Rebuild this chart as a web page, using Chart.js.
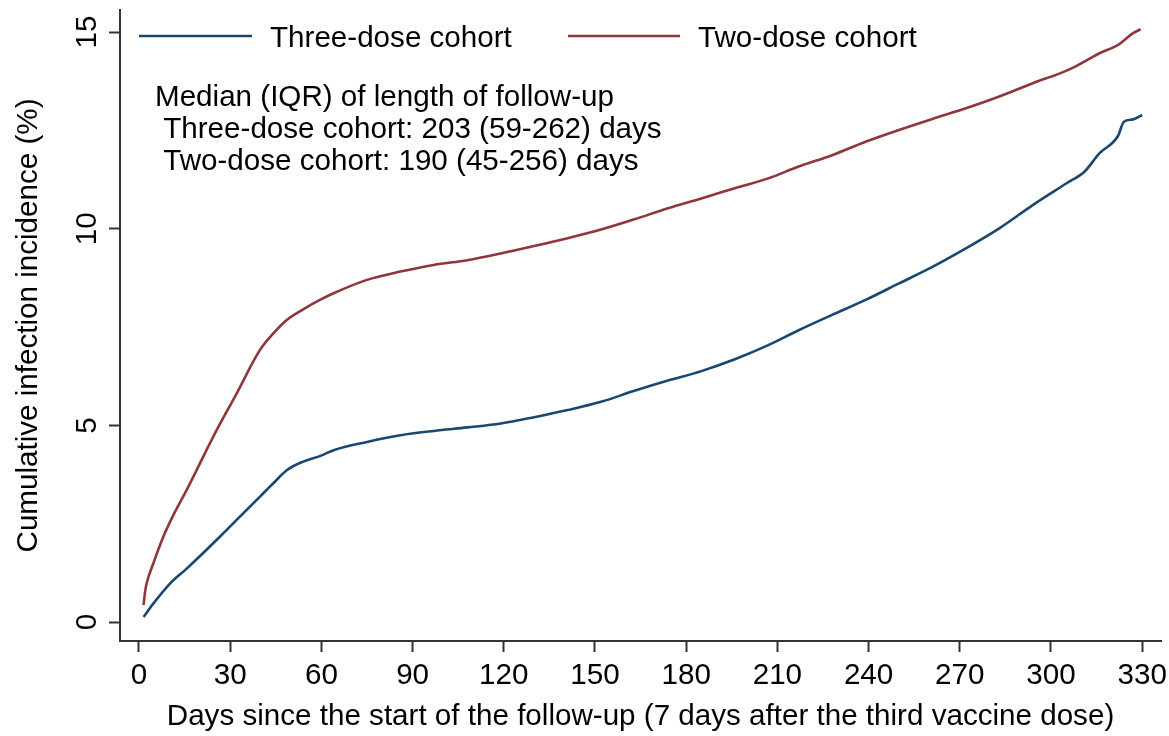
<!DOCTYPE html>
<html>
<head>
<meta charset="utf-8">
<script src="https://cdn.jsdelivr.net/npm/chart.js@4"></script>
<style>
  html, body { margin: 0; padding: 0; background: #fff; }
  #wrap { width: 1169px; height: 736px; }
</style>
</head>
<body>
<div id="wrap"><canvas id="c" width="1169" height="736"></canvas></div>
<script>
// ---- data ----
const seriesNames = ['Three-dose cohort', 'Two-dose cohort'];

const threeDoseDays = [1.5, 4.7, 10.2, 15.7, 26.6, 33.2, 39.8, 42, 44.2, 48.6, 54, 59.5, 64, 75, 86, 97, 108, 119, 130, 141, 152, 163, 174, 185, 196, 207, 217, 228, 239, 250, 261, 272, 283, 294, 305, 311, 316, 322, 324, 327, 330];
const threeDoseValues = [0.13, 0.47, 0.98, 1.36, 2.17, 2.68, 3.19, 3.36, 3.53, 3.86, 4.08, 4.22, 4.37, 4.58, 4.75, 4.86, 4.95, 5.05, 5.21, 5.39, 5.6, 5.88, 6.14, 6.38, 6.68, 7.04, 7.42, 7.81, 8.19, 8.61, 9.03, 9.5, 10.01, 10.6, 11.15, 11.45, 11.92, 12.35, 12.72, 12.78, 12.89];

const twoDoseDays = [1.5, 2, 2.5, 4.7, 8, 11.3, 15.7, 24.4, 32.1, 39.8, 44.2, 48.6, 54, 59.5, 64, 75, 86, 97, 108, 119, 130, 141, 152, 163, 174, 185, 196, 207, 217, 228, 239, 250, 261, 272, 283, 294, 303, 308, 312, 316, 322, 327, 329.5];
const twoDoseValues = [0.43, 0.77, 0.98, 1.49, 2.17, 2.72, 3.36, 4.71, 5.81, 6.92, 7.34, 7.68, 7.95, 8.19, 8.36, 8.7, 8.91, 9.08, 9.2, 9.37, 9.56, 9.76, 9.98, 10.24, 10.52, 10.77, 11.03, 11.28, 11.58, 11.87, 12.21, 12.51, 12.79, 13.06, 13.36, 13.7, 13.95, 14.12, 14.29, 14.46, 14.67, 14.97, 15.07];

const xTickValues = [0, 30, 60, 90, 120, 150, 180, 210, 240, 270, 300, 330];
const yTickValues = [0, 5, 10, 15];

const noteLines = ['Median (IQR) of length of follow-up', ' Three-dose cohort: 203 (59-262) days', ' Two-dose cohort: 190 (45-256) days'];
const xTitle = 'Days since the start of the follow-up (7 days after the third vaccine dose)';
const yTitle = 'Cumulative infection incidence (%)';

// ---- styling ----
const FONT = "'Liberation Sans', Arial, sans-serif";
const FS = 29.6;
const AXIS = '#333333';
const colors = ['#1a476f', '#90353b'];

const toPts = (xs, ys) => xs.map((x, i) => ({ x: x, y: ys[i] }));

const overlayPlugin = {
  id: 'overlay',
  afterDraw(chart) {
    const ctx = chart.ctx;
    ctx.save();
    ctx.font = FS + 'px ' + FONT;
    ctx.fillStyle = '#000';
    ctx.textBaseline = 'alphabetic';
    ctx.textAlign = 'left';
    // legend
    const legendItems = [
      { x0: 139, x1: 252, tx: 270 },
      { x0: 568, x1: 680, tx: 698 }
    ];
    chart.data.datasets.forEach((ds, i) => {
      const it = legendItems[i];
      ctx.strokeStyle = ds.borderColor;
      ctx.lineWidth = 2.5;
      ctx.beginPath();
      ctx.moveTo(it.x0, 36);
      ctx.lineTo(it.x1, 36);
      ctx.stroke();
      ctx.fillText(ds.label, it.tx, 47);
    });
    // notes
    const baselines = [106, 138, 170];
    noteLines.forEach((t, i) => ctx.fillText(t, 155, baselines[i]));
    ctx.restore();
  }
};

new Chart(document.getElementById('c'), {
  type: 'line',
  data: {
    datasets: [
      { label: seriesNames[0], data: toPts(threeDoseDays, threeDoseValues), borderColor: colors[0], backgroundColor: colors[0] },
      { label: seriesNames[1], data: toPts(twoDoseDays, twoDoseValues), borderColor: colors[1], backgroundColor: colors[1] }
    ]
  },
  options: {
    responsive: false,
    animation: false,
    devicePixelRatio: 1,
    layout: { padding: { top: 10, right: 8, left: 0, bottom: 0 } },
    elements: {
      point: { radius: 0 },
      line: { borderWidth: 2.6, cubicInterpolationMode: 'monotone' }
    },
    plugins: {
      legend: { display: false },
      tooltip: { enabled: false }
    },
    scales: {
      x: {
        type: 'linear',
        min: -6.25,
        max: 336.2,
        afterBuildTicks: (s) => { s.ticks = xTickValues.map(v => ({ value: v })); },
        afterFit: (s) => { s.height = 95; s.paddingLeft = 0; s.paddingRight = 0; },
        grid: { display: true, drawOnChartArea: false, drawTicks: true, tickLength: 11, tickWidth: 2, tickColor: AXIS },
        border: { display: true, color: AXIS, width: 2 },
        ticks: { color: '#000', font: { family: FONT, size: FS }, padding: 6, maxRotation: 0, autoSkip: false },
        title: { display: true, text: xTitle, color: '#000', font: { family: FONT, size: FS }, padding: { top: 0, bottom: 1 } }
      },
      y: {
        type: 'linear',
        min: -0.48,
        max: 15.56,
        afterBuildTicks: (s) => { s.ticks = yTickValues.map(v => ({ value: v })); },
        afterFit: (s) => { s.width = 120; s.paddingTop = 0; s.paddingBottom = 0; },
        grid: { display: true, drawOnChartArea: false, drawTicks: true, tickLength: 11, tickWidth: 2, tickColor: AXIS },
        border: { display: true, color: AXIS, width: 2 },
        ticks: { color: '#000', font: { family: FONT, size: FS }, padding: 5, minRotation: 90, maxRotation: 90, crossAlign: 'center', autoSkip: false },
        title: { display: true, text: yTitle, color: '#000', font: { family: FONT, size: FS }, padding: { top: 11, bottom: 0 } }
      }
    }
  },
  plugins: [overlayPlugin]
});
</script>
</body>
</html>
